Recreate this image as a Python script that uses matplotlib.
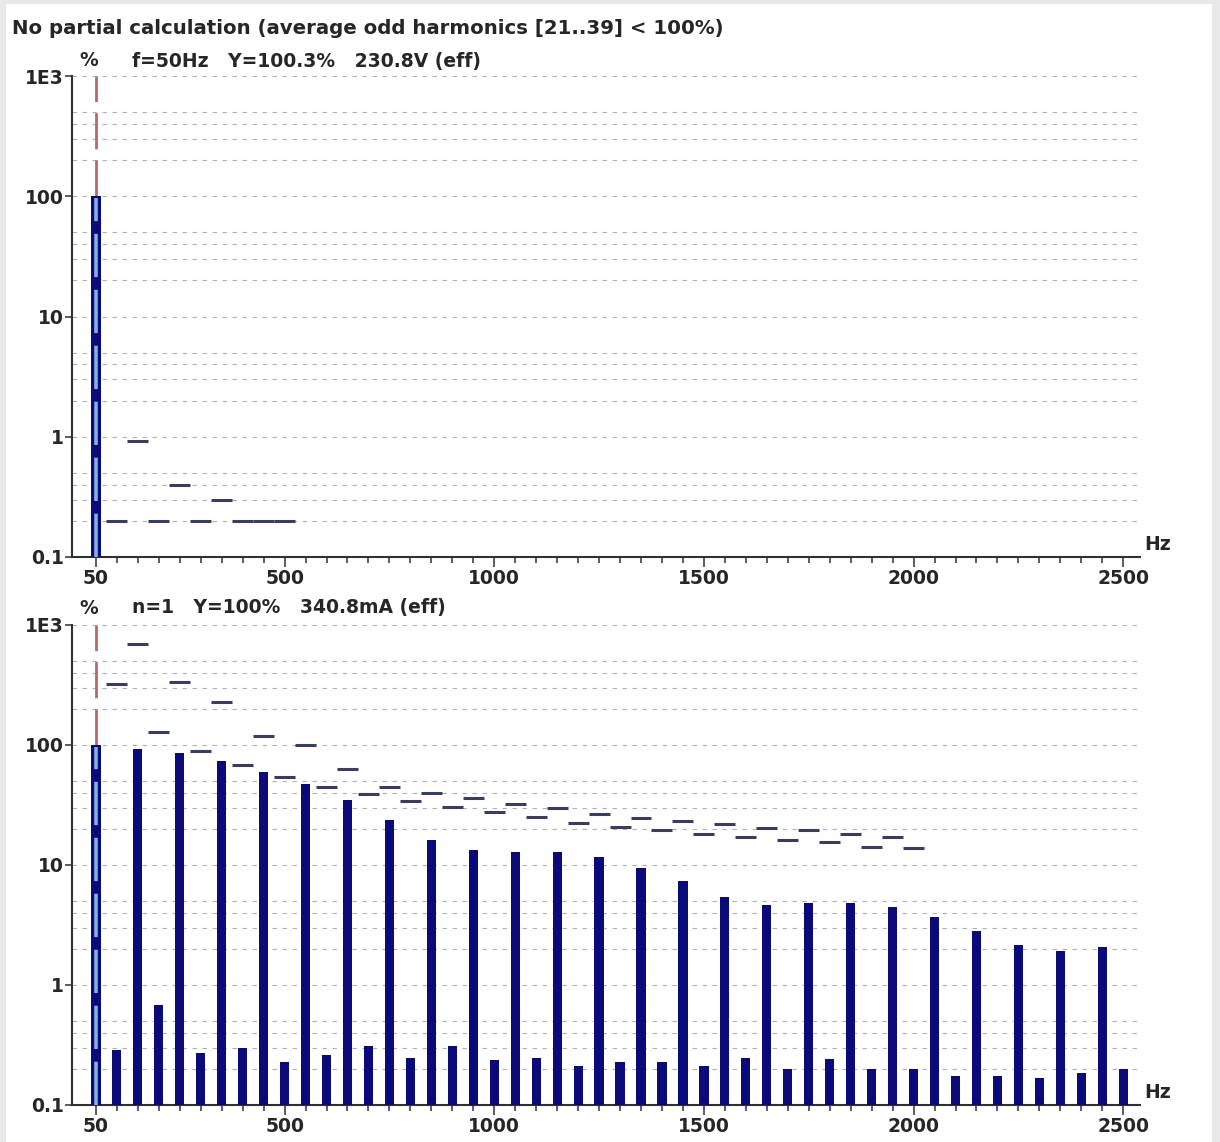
import matplotlib
matplotlib.use("Agg")
import matplotlib.pyplot as plt
from matplotlib.patches import Rectangle
from matplotlib.ticker import FixedLocator, FixedFormatter, NullFormatter, LogLocator

# ---------------- data ----------------
harmonic_order = list(range(1, 51))
freq_hz = [50 * n for n in harmonic_order]

# voltage spectrum (top): only fundamental visible above 0.1 %
voltage_fund_pct = 100.3
voltage_limit_orders = [2, 3, 4, 5, 6, 7, 8, 9, 10]
voltage_limit_pct = [0.2, 0.93, 0.2, 0.4, 0.2, 0.3, 0.2, 0.2, 0.2]

# current spectrum (bottom), orders 1..50
current_pct = [100, 0.287, 92, 0.68, 85, 0.27, 73, 0.30, 60, 0.228,
               47, 0.26, 34.5, 0.31, 23.5, 0.246, 16.2, 0.31, 13.3, 0.237,
               12.8, 0.246, 12.8, 0.211, 11.7, 0.228, 9.4, 0.228, 7.4, 0.211,
               5.4, 0.246, 4.64, 0.2, 4.8, 0.24, 4.8, 0.2, 4.47, 0.2,
               3.69, 0.174, 2.82, 0.174, 2.15, 0.168, 1.92, 0.185, 2.07, 0.2]

# current limit markers, orders 2..40
current_limit_orders = list(range(2, 41))
current_limit_pct = [322, 695, 128, 335, 89, 228, 68, 119, 54, 100,
                     44.7, 63, 39, 44.7, 34, 40, 30.4, 36, 27.5, 32,
                     25, 30, 22.6, 26.4, 20.8, 24.6, 19.5, 23.3, 18, 21.9,
                     17.2, 20.3, 16.2, 19.5, 15.5, 18.2, 14.2, 17.1, 13.9]

x_major = [50, 500, 1000, 1500, 2000, 2500]
x_major_labels = ["50", "500", "1000", "1500", "2000", "2500"]
y_major = [0.1, 1, 10, 100, 1000]
y_major_labels = ["0.1", "1", "10", "100", "1E3"]

title_text = "No partial calculation (average odd harmonics [21..39] < 100%)"
top_info = "f=50Hz   Y=100.3%   230.8V (eff)"
bottom_info = "n=1   Y=100%   340.8mA (eff)"

# ---------------- figure ----------------
W, H = 1220, 1142
fig = plt.figure(figsize=(W / 100, H / 100), dpi=100)
fig.patch.set_facecolor("#e8e8e8")
fig.add_artist(Rectangle((6 / W, 0), (1212 - 6) / W, 1 - 4 / H,
                         transform=fig.transFigure, facecolor="white",
                         edgecolor="none", zorder=-10))

def fx(px):
    return px / W

def fy(py):
    return 1 - py / H

TXT = "#262626"
BAR = "#0a0a78"
LIM = "#3c3c5e"
FS = 13.5
FONT = dict(family="DejaVu Sans", fontweight="bold", color=TXT)

def setup(ax):
    ax.set_yscale("log")
    ax.set_ylim(0.1, 1000)
    ax.set_xlim(-7, 2540)
    ax.set_facecolor("none")
    for s in ("top", "right"):
        ax.spines[s].set_visible(False)
    for s in ("left", "bottom"):
        ax.spines[s].set_linewidth(1.5)
        ax.spines[s].set_color("#303030")
    ax.yaxis.set_major_locator(FixedLocator(y_major))
    ax.yaxis.set_major_formatter(FixedFormatter(y_major_labels))
    ax.yaxis.set_minor_locator(LogLocator(base=10, subs=(2, 3, 4, 5)))
    ax.yaxis.set_minor_formatter(NullFormatter())
    ax.xaxis.set_major_locator(FixedLocator(x_major))
    ax.xaxis.set_major_formatter(FixedFormatter(x_major_labels))
    minors = [f for f in range(100, 2500, 50) if f not in x_major]
    ax.xaxis.set_minor_locator(FixedLocator(minors))
    ax.xaxis.set_minor_formatter(NullFormatter())
    ax.tick_params(axis="y", which="major", direction="out", length=5,
                   width=1.1, color="#303030", pad=1, labelsize=FS)
    ax.tick_params(axis="y", which="minor", length=0)
    ax.tick_params(axis="x", which="major", direction="out", length=7,
                   width=1.1, color="#303030", pad=2, labelsize=FS)
    ax.tick_params(axis="x", which="minor", direction="out", length=4,
                   width=1.1, color="#303030")
    for lab in ax.get_xticklabels() + ax.get_yticklabels():
        lab.set_fontweight("bold")
        lab.set_color(TXT)
    ax.grid(True, axis="y", which="both", color="#b0b0b0",
            linestyle=(0, (4, 5)), linewidth=0.8, zorder=0)
    ax.set_axisbelow(True)

def fundamental(ax, val):
    ax.bar([freq_hz[0]], [val], width=22, color=BAR, zorder=3)
    ax.plot([freq_hz[0], freq_hz[0]], [val, 1000], color="#b46a6a",
            lw=2.0, ls=(0, (13, 4)), zorder=2, solid_capstyle="butt")
    ax.plot([freq_hz[0], freq_hz[0]], [0.1, val * 0.96], color="#86aee2",
            lw=2.6, ls=(0, (12, 3.5)), zorder=4)

# top axes
ax1 = fig.add_axes([fx(72), fy(557), fx(1140) - fx(72), fy(76) - fy(557)])
setup(ax1)
fundamental(ax1, voltage_fund_pct)
vf = [50 * n for n in voltage_limit_orders]
ax1.hlines(voltage_limit_pct, [f - 25 for f in vf], [f + 25 for f in vf],
           color=LIM, lw=2.2, zorder=5)

# bottom axes
ax2 = fig.add_axes([fx(72), fy(1105), fx(1140) - fx(72), fy(625) - fy(1105)])
setup(ax2)
ax2.bar(freq_hz[1:], current_pct[1:], width=22, color=BAR, zorder=3)
fundamental(ax2, current_pct[0])
cf = [50 * n for n in current_limit_orders]
ax2.hlines(current_limit_pct, [f - 25 for f in cf], [f + 25 for f in cf],
           color=LIM, lw=2.2, zorder=5)

# texts
fig.text(fx(12), fy(29), title_text, ha="left", va="center", fontsize=14.2, **FONT)
fig.text(fx(89), fy(61), "%", ha="center", va="center", fontsize=FS, **FONT)
fig.text(fx(132), fy(61), top_info, ha="left", va="center", fontsize=FS, **FONT)
fig.text(fx(89), fy(608), "%", ha="center", va="center", fontsize=FS, **FONT)
fig.text(fx(132), fy(608), bottom_info, ha="left", va="center", fontsize=FS, **FONT)
fig.text(fx(1144), fy(545), "Hz", ha="left", va="center", fontsize=FS, **FONT)
fig.text(fx(1144), fy(1092), "Hz", ha="left", va="center", fontsize=FS, **FONT)

fig.savefig("out.png", dpi=100, facecolor=fig.get_facecolor())
